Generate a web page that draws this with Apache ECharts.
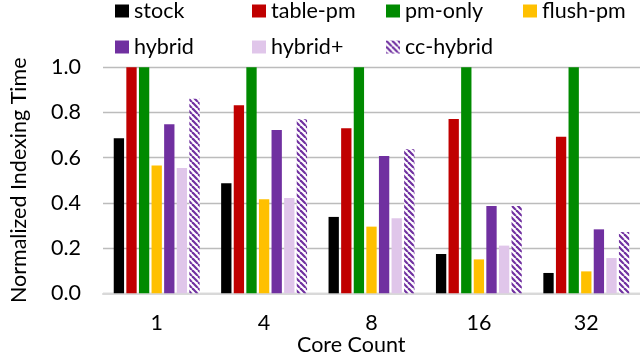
<!DOCTYPE html>
<html>
<head>
<meta charset="utf-8">
<script src="https://cdn.jsdelivr.net/npm/echarts@6/dist/echarts.min.js"></script>
<style>html,body{margin:0;padding:0;background:#fff}#c{width:640px;height:364px}</style>
</head>
<body>
<div id="c"></div>
<script>
const categories = ['1', '4', '8', '16', '32'];
const seriesNames = ['stock', 'table-pm', 'pm-only', 'flush-pm', 'hybrid', 'hybrid+', 'cc-hybrid'];
const stock      = [0.686, 0.487, 0.338, 0.174, 0.090];
const tablePm    = [1.0, 0.832, 0.730, 0.771, 0.693];
const pmOnly     = [1.0, 1.0, 1.0, 1.0, 1.0];
const flushPm    = [0.566, 0.416, 0.295, 0.150, 0.097];
const hybrid     = [0.748, 0.723, 0.607, 0.386, 0.283];
const hybridPlus = [0.554, 0.422, 0.332, 0.211, 0.156];
const ccHybrid   = [0.861, 0.770, 0.637, 0.386, 0.271];
const yTicks = [0, 0.2, 0.4, 0.6, 0.8, 1.0];

const FONT = 'Lato';
const FS = 21.5;

function stripePattern() {
  const s = 6;
  const cv = document.createElement('canvas');
  cv.width = s; cv.height = s;
  const ctx = cv.getContext('2d');
  ctx.fillStyle = '#ffffff';
  ctx.fillRect(0, 0, s, s);
  ctx.strokeStyle = '#7030a0';
  ctx.lineWidth = 2.2;
  for (let k = -1; k <= 1; k++) {
    ctx.beginPath();
    ctx.moveTo(k * s, 0);
    ctx.lineTo(k * s + s, s);
    ctx.stroke();
  }
  return { image: cv, repeat: 'repeat' };
}

const colors = ['#000000', '#c00000', '#008a00', '#ffc000', '#7030a0', '#e0c6ea', stripePattern()];
const datas = [stock, tablePm, pmOnly, flushPm, hybrid, hybridPlus, ccHybrid];

const legendPos = [
  [115, 0], [252, 0], [386, 0], [523, 0],
  [115, 36], [252, 36], [386, 36]
];

const chart = echarts.init(document.getElementById('c'), null, { renderer: 'canvas' });
chart.setOption({
  animation: false,
  backgroundColor: '#ffffff',
  textStyle: { fontFamily: FONT },
  title: {
    text: 'Core Count',
    left: 297, top: 334, padding: 0,
    textStyle: { fontFamily: FONT, fontSize: FS, fontWeight: 'normal', color: '#000' }
  },
  legend: seriesNames.map((n, i) => ({
    data: [n],
    left: legendPos[i][0], top: legendPos[i][1],
    padding: 0,
    icon: 'rect',
    itemWidth: 14, itemHeight: 13,
    textStyle: { fontFamily: FONT, fontSize: FS, color: '#000' }
  })),
  grid: { left: 98.3, right: -5.2, top: 67.3, bottom: 70.7, containLabel: false },
  xAxis: {
    type: 'category',
    data: categories,
    axisTick: { show: false },
    axisLine: { show: true, lineStyle: { color: '#d9d9d9', width: 2 } },
    axisLabel: { fontFamily: FONT, fontSize: FS, color: '#000', margin: 19 }
  },
  yAxis: {
    type: 'value',
    min: 0, max: 1, interval: 0.2,
    name: 'Normalized Indexing Time',
    nameLocation: 'middle',
    nameRotate: 90,
    nameGap: 73,
    nameTextStyle: { fontFamily: FONT, fontSize: FS, color: '#000' },
    axisLine: { show: false },
    axisTick: { show: false },
    axisLabel: { fontFamily: FONT, fontSize: FS, color: '#000', margin: 22,
      formatter: v => yTicks.some(t => Math.abs(t - v) < 1e-9) ? v.toFixed(1) : '' },
    splitLine: { lineStyle: { color: '#bcbcbc', width: 1.3 } }
  },
  series: seriesNames.map((n, i) => ({
    name: n,
    type: 'bar',
    data: datas[i],
    barGap: '22%',
    barCategoryGap: '20%',
    itemStyle: { color: colors[i] }
  }))
});
</script>
</body>
</html>
